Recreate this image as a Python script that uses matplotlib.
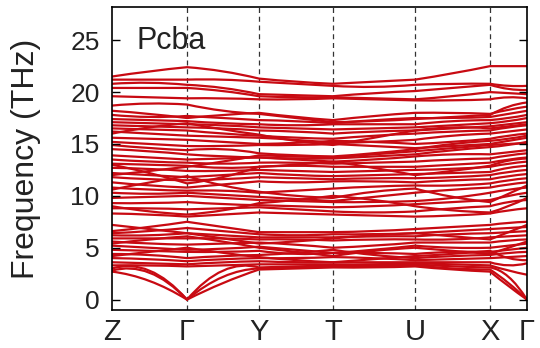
import matplotlib
matplotlib.use("Agg")
import matplotlib.pyplot as plt
from matplotlib.path import Path
from matplotlib.patches import PathPatch

plt.rcParams["font.family"] = ["Liberation Sans", "DejaVu Sans"]

# path distance of each high-symmetry point (arbitrary units)
KPOS = [0, 75, 147, 221, 303, 378, 415]
KLABELS = ["Z", "Γ", "Y", "T", "U", "X", "Γ"]

# frequencies (THz) at Z, mid, Γ, mid, Y, mid, T, mid, U, mid, X, mid, Γ
top_bands = [
    [21.5, 22.0, 22.4, 22.0, 21.3, 21.0, 20.8, 21.0, 21.2, 21.8, 22.5, 22.5, 22.5],
    [21.2, 21.2, 21.2, 21.2, 21.0, 20.8, 20.6, 20.5, 20.7, 20.8, 20.8, 20.6, 20.6],
    [20.8, 20.9, 20.7, 20.4, 19.8, 19.7, 19.6, 19.9, 20.1, 20.4, 20.7, 20.3, 20.2],
    [20.4, 20.4, 20.4, 20.1, 19.6, 19.5, 19.5, 19.4, 19.3, 19.6, 20.0, 19.9, 19.8],
    [19.6, 19.5, 19.4, 19.4, 19.3, 19.3, 19.4, 19.3, 19.2, 19.2, 19.3, 19.5, 19.4],
    [18.7, 18.9, 18.8, 18.2, 17.9, 17.5, 17.1, 17.2, 17.4, 17.6, 17.8, 18.6, 19.0],
    [18.2, 17.9, 17.5, 17.8, 18.0, 17.6, 17.3, 17.7, 18.0, 18.0, 17.9, 18.3, 18.6],
]
upper_bands = [
    [17.8, 17.6, 17.7, 17.5, 17.3, 17.2, 17.0, 17.3, 17.5, 17.5, 17.6, 17.9, 18.2],
    [17.4, 17.3, 17.2, 17.0, 16.9, 16.8, 16.9, 16.9, 16.9, 17.2, 17.3, 17.5, 17.8],
    [17.1, 17.0, 16.9, 16.8, 16.6, 16.5, 16.4, 16.5, 16.6, 16.8, 17.0, 17.2, 17.5],
    [16.8, 16.7, 16.6, 16.5, 16.3, 16.2, 16.0, 16.2, 16.3, 16.5, 16.7, 16.9, 17.1],
    [16.5, 16.4, 16.3, 16.0, 15.8, 15.6, 15.5, 15.8, 16.0, 16.2, 16.3, 16.6, 16.8],
    [16.2, 16.0, 15.8, 15.7, 15.6, 15.4, 15.1, 15.2, 15.4, 15.8, 16.0, 16.2, 16.4],
    [16.0, 16.6, 17.0, 16.4, 15.9, 15.3, 14.9, 15.6, 16.3, 16.6, 16.5, 16.7, 16.9],
    [15.6, 15.5, 15.4, 15.2, 15.0, 15.1, 15.3, 15.2, 15.0, 15.2, 15.5, 15.8, 16.0],
    [15.2, 15.0, 14.8, 14.8, 14.9, 14.9, 15.0, 14.8, 14.6, 14.8, 15.0, 15.3, 15.6],
    [14.9, 14.6, 14.4, 14.5, 14.1, 13.9, 13.8, 14.1, 14.5, 15.0, 15.3, 15.5, 15.8],
    [14.5, 14.3, 14.0, 13.8, 13.7, 13.6, 13.6, 13.8, 14.0, 14.4, 14.7, 14.9, 15.2],
]
middle_bands = [
    [13.9, 13.7, 13.5, 13.6, 13.7, 13.5, 13.3, 13.5, 13.8, 14.0, 14.0, 14.2, 14.4],
    [13.5, 13.3, 13.2, 13.1, 13.2, 13.2, 13.1, 13.2, 13.3, 13.5, 13.6, 13.9, 14.1],
    [13.1, 13.0, 12.9, 12.7, 12.8, 12.9, 12.8, 12.8, 12.8, 13.0, 13.2, 13.5, 13.7],
    [13.0, 12.2, 11.2, 11.8, 12.8, 13.0, 13.3, 12.7, 12.0, 12.4, 12.9, 13.4, 13.6],
    [12.7, 12.6, 12.4, 12.4, 12.5, 12.4, 12.3, 12.4, 12.5, 12.6, 12.8, 13.1, 13.3],
    [12.0, 12.4, 12.8, 13.3, 13.9, 13.8, 13.7, 14.0, 14.3, 14.6, 14.9, 15.0, 15.1],
    [12.2, 12.0, 11.8, 12.0, 12.2, 12.0, 11.9, 12.0, 12.1, 12.2, 12.3, 12.7, 12.9],
    [11.8, 11.6, 11.5, 11.6, 11.8, 11.7, 11.6, 11.7, 11.7, 11.8, 12.0, 12.3, 12.5],
    [11.3, 11.0, 10.8, 11.1, 11.4, 11.3, 11.4, 11.4, 11.3, 11.5, 11.6, 11.9, 12.1],
    [10.8, 10.6, 10.5, 10.5, 10.3, 10.5, 10.7, 10.9, 11.0, 11.0, 11.2, 11.5, 11.7],
    [10.6, 11.3, 11.9, 11.0, 10.4, 10.0, 9.8, 10.4, 10.7, 9.9, 9.4, 10.2, 11.0],
    [10.3, 10.2, 10.3, 10.1, 9.9, 9.7, 9.5, 9.9, 10.3, 10.6, 10.8, 11.1, 11.3],
    [9.8, 9.9, 10.0, 9.8, 9.6, 9.5, 9.4, 9.4, 9.5, 9.8, 10.3, 10.6, 10.8],
    [9.3, 9.3, 9.4, 9.2, 9.1, 9.0, 8.9, 9.0, 9.2, 9.4, 9.6, 10.0, 10.3],
    [9.0, 8.5, 8.2, 8.6, 9.3, 9.6, 10.0, 9.6, 9.0, 8.6, 8.4, 9.0, 9.8],
    [8.8, 8.8, 8.7, 8.8, 8.9, 8.7, 8.5, 8.4, 8.5, 8.8, 9.0, 9.4, 9.6],
    [8.3, 8.2, 8.0, 8.2, 8.4, 8.3, 8.2, 8.1, 8.0, 8.1, 8.3, 8.6, 8.8],
]
lower_bands = [
    [7.2, 6.8, 6.4, 5.9, 5.4, 5.6, 5.9, 6.2, 6.4, 6.1, 5.8, 6.5, 7.2],
    [6.6, 7.0, 7.5, 7.0, 6.5, 6.5, 6.5, 6.6, 6.8, 7.0, 7.2, 7.4, 7.5],
    [6.4, 6.6, 6.9, 6.6, 6.3, 6.2, 6.3, 6.3, 6.4, 6.6, 6.8, 6.9, 7.0],
    [6.2, 6.2, 6.4, 6.2, 6.0, 6.0, 6.0, 6.1, 6.1, 6.3, 6.4, 6.5, 6.6],
    [5.9, 5.9, 5.9, 5.9, 5.8, 5.8, 5.7, 5.8, 5.8, 5.8, 6.0, 6.1, 6.2],
    [5.6, 5.4, 5.3, 5.4, 5.5, 5.3, 5.0, 5.2, 5.5, 5.5, 5.5, 5.7, 5.8],
    [5.4, 5.8, 6.1, 5.6, 5.0, 4.6, 4.2, 4.7, 5.0, 4.7, 4.4, 5.0, 5.6],
    [5.2, 5.0, 4.8, 4.9, 5.1, 4.8, 4.5, 4.8, 5.2, 5.0, 5.0, 5.2, 5.4],
    [4.8, 4.7, 4.6, 4.6, 4.7, 4.4, 4.5, 4.5, 4.4, 4.6, 4.6, 4.8, 5.0],
    [4.4, 4.3, 4.0, 4.2, 4.3, 4.5, 4.8, 4.3, 4.0, 4.2, 4.3, 4.5, 4.6],
    [4.2, 4.6, 5.0, 4.5, 4.1, 3.8, 3.6, 3.9, 4.2, 4.4, 4.7, 4.0, 3.8],
    [4.0, 3.9, 3.7, 3.9, 4.0, 4.0, 4.1, 4.0, 3.8, 3.9, 4.0, 4.1, 4.2],
    [3.6, 3.5, 3.4, 3.6, 3.7, 3.6, 3.6, 3.6, 3.6, 3.6, 3.6, 3.3, 3.5],
    [3.3, 3.3, 3.2, 3.3, 3.4, 3.4, 3.4, 3.4, 3.5, 3.4, 3.3, 2.8, 2.4],
]
acoustic_bands = [
    [3.0, 2.8, 0.0, 2.8, 3.1, 3.2, 3.3, 3.3, 3.4, 3.2, 3.1, 2.2, 0.0],
    [2.8, 2.6, 0.0, 2.2, 3.0, 3.1, 3.2, 3.2, 3.3, 3.0, 2.9, 1.6, 0.0],
    [2.7, 1.8, 0.0, 1.6, 2.9, 3.0, 3.1, 3.1, 3.2, 2.9, 2.7, 1.3, 0.0],
]

RED = "#c80a12"


def band_path(freqs):
    # one quadratic Bezier per leg, passing through the mid-leg value
    verts = [(KPOS[0], freqs[0])]
    codes = [Path.MOVETO]
    for i in range(len(KPOS) - 1):
        x0, x1 = KPOS[i], KPOS[i + 1]
        a, m, b = freqs[2 * i], freqs[2 * i + 1], freqs[2 * i + 2]
        ctrl = 2 * m - 0.5 * (a + b)
        verts += [((x0 + x1) / 2, ctrl), (x1, b)]
        codes += [Path.CURVE3, Path.CURVE3]
    return Path(verts, codes)


fig = plt.figure(figsize=(5.4, 3.48), dpi=100)
ax = fig.add_axes([112 / 540, 1 - 310 / 348, 415 / 540, 303 / 348])

for group in (top_bands, upper_bands, middle_bands, lower_bands, acoustic_bands):
    for freqs in group:
        ax.add_patch(PathPatch(band_path(freqs), fill=False, edgecolor=RED,
                               lw=1.6, capstyle="round", joinstyle="round"))

for x in KPOS[1:-1]:
    ax.axvline(x, color="#333333", lw=0.9, ls=(0, (4, 3)), zorder=0)

ax.set_xlim(KPOS[0], KPOS[-1])
ax.set_ylim(-1, 28.2)
ax.set_xticks(KPOS)
ax.set_xticklabels(KLABELS)
ax.set_yticks([0, 5, 10, 15, 20, 25])
ax.tick_params(axis="x", length=0, labelsize=21, pad=6, labelcolor="#222222")
ax.tick_params(axis="y", direction="in", length=6, width=1, right=True,
               labelsize=19, pad=9, labelcolor="#222222")
for s in ax.spines.values():
    s.set_linewidth(1.2)

ax.set_ylabel("Frequency (THz)", fontsize=23, color="#222222")
ax.yaxis.set_label_coords(-0.172, 0.5)
ax.text(0.06, 0.861, "Pcba", transform=ax.transAxes, fontsize=22,
        va="baseline", ha="left", color="#222222")

fig.savefig("out.png", dpi=100)
